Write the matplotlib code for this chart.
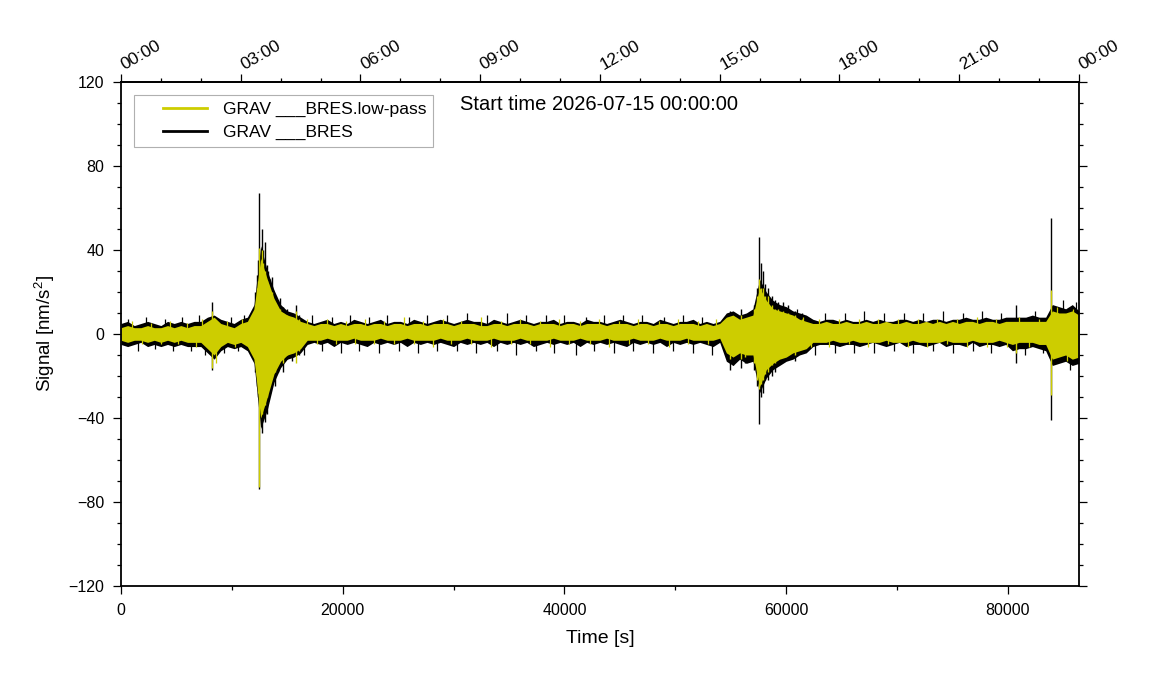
"""Gravimeter residual signal (GRAV ___BRES) with its low-pass version, one day."""

import matplotlib

matplotlib.use("Agg")
import matplotlib.pyplot as plt
import numpy as np
from matplotlib.legend_handler import HandlerLine2D
from matplotlib.lines import Line2D
from matplotlib.ticker import MultipleLocator
from matplotlib.transforms import ScaledTranslation

plt.rcParams["font.family"] = ["Liberation Sans", "DejaVu Sans"]
plt.rcParams["mathtext.fontset"] = "custom"
plt.rcParams["mathtext.rm"] = "Liberation Sans"
plt.rcParams["mathtext.it"] = "Liberation Sans:italic"

# envelope of the traces, read every 600 s (0 .. 86400 s)
step_s = 600
black_hi = [
    5, 6, 4, 5, 6, 5, 4, 6, 5, 6, 5, 6, 6,
    8, 9, 7, 6, 5, 7, 8,
    14, 42, 30, 21, 14, 11, 10, 8,
    6, 5, 6, 7, 5, 6, 5, 7, 6, 5,
    6, 7, 5, 6, 6, 5, 7, 6, 5, 6,
    7, 6, 5, 6, 7, 6, 6, 5, 7, 6,
    5, 6, 7, 6, 5, 6, 6, 7, 5, 6,
    6, 5, 7, 6, 6, 5, 6, 7, 6, 5,
    6, 6, 5, 7, 6, 5, 6, 6, 7, 5,
    6, 5, 6,
    10, 11, 9, 10, 12,
    26, 20, 16, 14, 13, 11, 10, 9,
    7, 6, 7, 7, 6, 7, 6, 6, 7, 6,
    7, 6, 6, 7, 7, 6, 7, 6, 7, 7,
    6, 7, 7, 8, 7, 7, 8, 7, 7, 8,
    8, 8, 8, 9, 8, 8,
    14, 13, 12, 14, 11,
]
black_lo = [
    -5, -6, -5, -4, -6, -5, -6, -5, -6, -5, -6, -6, -6,
    -9, -12, -8, -6, -7, -6, -8,
    -14, -45, -36, -23, -16, -12, -11, -9,
    -5, -4, -5, -4, -6, -4, -5, -4, -5, -6,
    -4, -5, -4, -5, -4, -6, -4, -5, -4, -5,
    -4, -5, -6, -4, -5, -4, -5, -4, -6, -4,
    -5, -4, -5, -4, -6, -5, -4, -5, -4, -5,
    -4, -6, -4, -5, -4, -5, -4, -5, -6, -4,
    -5, -4, -5, -4, -6, -4, -5, -4, -5, -4,
    -5, -6, -4,
    -13, -15, -12, -14, -13,
    -28, -21, -17, -15, -13, -12, -10, -9,
    -6, -5, -5, -5, -6, -5, -5, -6, -5, -4,
    -5, -6, -5, -4, -6, -5, -5, -6, -5, -4,
    -6, -5, -5, -6, -4, -6, -5, -5, -6, -5,
    -8, -7, -7, -6, -7, -8,
    -15, -14, -13, -15, -14,
]
lowpass_hi = [
    3, 4, 3, 3, 4, 3, 3, 4, 3, 4, 3, 4, 4,
    6, 8, 5, 4, 3, 5, 6,
    12, 36, 26, 17, 11, 9, 8, 6,
    5, 4, 5, 5, 4, 5, 4, 5, 5, 4,
    5, 5, 4, 5, 5, 4, 5, 5, 4, 5,
    5, 5, 4, 5, 5, 5, 4, 4, 5, 5,
    4, 5, 5, 5, 4, 5, 5, 5, 4, 5,
    5, 4, 5, 5, 5, 4, 5, 5, 5, 4,
    5, 5, 4, 5, 5, 4, 5, 5, 5, 4,
    5, 4, 5,
    8, 9, 7, 8, 9,
    22, 16, 12, 11, 10, 9, 7, 6,
    5, 5, 6, 5, 5, 6, 5, 5, 6, 5,
    5, 6, 5, 5, 6, 5, 5, 6, 5, 6,
    5, 6, 5, 6, 6, 5, 6, 6, 5, 6,
    6, 6, 6, 6, 6, 6,
    11, 10, 10, 11, 9,
]
lowpass_lo = [
    -3, -4, -3, -3, -4, -3, -4, -3, -4, -3, -4, -4, -4,
    -7, -10, -6, -4, -5, -4, -6,
    -12, -40, -30, -19, -13, -10, -9, -7,
    -3, -3, -3, -2, -3, -3, -3, -2, -3, -3,
    -3, -2, -3, -3, -3, -2, -3, -3, -3, -3,
    -2, -3, -3, -3, -2, -3, -3, -3, -2, -3,
    -3, -3, -2, -3, -3, -3, -3, -2, -3, -3,
    -3, -2, -3, -3, -3, -2, -3, -3, -3, -2,
    -3, -3, -3, -2, -3, -3, -3, -2, -3, -3,
    -3, -3, -2,
    -9, -11, -9, -10, -10,
    -25, -17, -14, -12, -11, -9, -8, -7,
    -4, -4, -4, -3, -4, -4, -3, -4, -4, -4,
    -4, -3, -4, -4, -4, -3, -4, -4, -4, -4,
    -3, -4, -4, -4, -3, -4, -4, -4, -3, -4,
    -5, -4, -4, -4, -5, -5,
    -12, -11, -10, -12, -11,
]

# short spikes standing out of the envelope (drawn from 0 to the value)
black_fringe_t = [
    600, 1500, 2300, 3100, 4000, 4700, 5500, 6300, 7000, 7600,
    9300, 9900, 10600, 11100, 16500, 17200, 18100, 19000, 19800, 20700,
    21500, 22400, 23300, 24000, 25100, 26000, 26800, 27600, 28500, 29400,
    30300, 31200, 32000, 33000, 33900, 34800, 35600, 36500, 37400, 38300,
    39100, 40000, 41000, 41900, 42700, 43600, 44500, 45300, 46200, 47000,
    48000, 49000, 49800, 50700, 51600, 52400, 53300, 61000, 62600, 63500,
    64400, 65300, 66100, 67000, 67900, 68800, 69700, 70600, 71400, 72300,
    73200, 74100, 75000, 75900, 76800, 77700, 78500, 79400, 81500, 82400,
    83200, 85000, 85600, 86100,
]
black_fringe_v = [
    7, -8, 8, -7, 7, -8, 8, -8, 9, -10,
    -9, 8, -8, 9, -10, 9, -8, 8, -9, 9,
    -8, 8, -9, 9, -8, 8, -9, 9, -8, 9,
    -8, 10, -9, 9, -8, 10, -10, 9, -8, 9,
    -9, 9, -10, 8, -8, 9, -9, 9, -8, 9,
    -9, 8, -8, 9, -9, 8, -10, 12, -10, 10,
    -9, 10, -9, 11, -9, 10, -8, 10, -9, 10,
    -8, 11, -9, 10, -8, 11, -9, 10, -10, 11,
    -9, 16, -17, 15,
]
lowpass_fringe_t = [
    1000, 1900, 2700, 3600, 4400, 5100, 6000, 6800, 7300, 8600,
    9600, 10300, 10900, 16800, 17700, 18600, 19400, 20300, 21100, 22000,
    22800, 23700, 24600, 25500, 26400, 27200, 28100, 29000, 29800, 30700,
    31600, 32500, 33400, 34300, 35200, 36000, 36900, 37800, 38700, 39500,
    40400, 41400, 42300, 43100, 44000, 44900, 45800, 46600, 47500, 48500,
    49400, 50200, 51100, 52000, 52900, 53700, 61500, 62200, 63000, 63900,
    64800, 65700, 66600, 67400, 68300, 69200, 70100, 71000, 71900, 72700,
    73600, 74500, 75400, 76300, 77200, 78100, 78900, 79900, 81000, 81900,
    82800, 84400, 85300, 85900,
]
lowpass_fringe_v = [
    6, -5, 5, -5, 6, -5, 5, -6, 7, -14,
    6, -6, 7, 7, -5, 7, -5, 6, -5, 7,
    -5, 6, -5, 8, -5, 6, -6, 7, -5, 6,
    -5, 8, -6, 6, -5, 7, -5, 6, -6, 7,
    -5, 6, -5, 7, -6, 6, -5, 7, -5, 6,
    -6, 7, -5, 6, -5, 7, 8, -6, 7, -6,
    7, -5, 7, -6, 7, -5, 7, -6, 7, -6,
    7, -5, 7, -6, 8, -6, 7, -6, 8, -6,
    7, 13, -13, 12,
]

spike_t = [
    8200, 12100, 12250, 12350, 12475, 12700, 12850, 12950, 13150, 13300,
    13450, 13600, 13750, 13900, 14150, 14300, 14600, 15000, 15400, 15800,
    16100, 54900, 55200, 55900, 56300, 57100, 57350, 57550, 57750, 57900,
    58100, 58400, 58700, 59000, 59300, 59700, 60200, 60800, 61400, 80700,
    83860,
]
black_spike_hi = [
    15, 20, 28, 35, 67, 50, 40, 44, 33, 30,
    26, 27, 21, 18, 16, 17, 13, 12, 10, 14,
    9, 11, 10, 12, 9, 14, 22, 46, 34, 30,
    24, 22, 18, 16, 15, 15, 14, 11, 10, 14,
    55,
]
black_spike_lo = [
    -17, -18, -25, -30, -74, -47, -36, -42, -38, -32,
    -28, -24, -22, -25, -18, -15, -18, -12, -13, -9,
    -10, -17, -15, -16, -14, -17, -25, -43, -30, -28,
    -22, -22, -20, -18, -14, -13, -12, -13, -9, -14,
    -41,
]
lowpass_spike_hi = [
    11, 14, 22, 25, 41, 40, 34, 30, 25, 24,
    20, 20, 16, 14, 12, 12, 10, 9, 8, 11,
    7, 8, 8, 9, 7, 12, 18, 26, 22, 22,
    18, 18, 14, 12, 12, 11, 10, 9, 7, 3,
    21,
]
lowpass_spike_lo = [
    -16, -14, -20, -28, -73, -38, -33, -34, -30, -26,
    -22, -20, -17, -18, -14, -12, -14, -10, -9, -14,
    -8, -12, -10, -12, -11, -14, -22, -26, -24, -22,
    -19, -18, -15, -14, -11, -10, -9, -10, -7, -9,
    -29,
]

hour_labels = ["00:00", "03:00", "06:00", "09:00", "12:00",
               "15:00", "18:00", "21:00", "00:00"]
start_time = "2026-07-15 00:00:00"

YELLOW = "#cdcd00"
day_s = 86400

t = np.arange(len(black_hi)) * step_s

fig = plt.figure(figsize=(11.51, 7.0), dpi=100)
ax = fig.add_axes([0.1051, 0.1629, 0.8323, 0.72])

# raw trace first, low-pass on top of it
ax.fill_between(t, black_lo, black_hi, color="black", lw=0, zorder=1)
ax.vlines(black_fringe_t, 0, black_fringe_v, color="black", lw=0.9, zorder=1.1)
ax.vlines(spike_t, black_spike_lo, black_spike_hi, color="black", lw=1.0,
          zorder=1.2)
ax.fill_between(t, lowpass_lo, lowpass_hi, color=YELLOW, lw=0, zorder=2)
ax.vlines(lowpass_fringe_t, 0, lowpass_fringe_v, color=YELLOW, lw=0.9,
          zorder=2.1)
ax.vlines(spike_t, lowpass_spike_lo, lowpass_spike_hi, color=YELLOW, lw=1.0,
          zorder=2.2)

ax.set_xlim(0, day_s)
ax.set_ylim(-120, 120)

for side in ax.spines.values():
    side.set_linewidth(1.3)

ax.xaxis.set_major_locator(MultipleLocator(20000))
ax.xaxis.set_minor_locator(MultipleLocator(10000))
ax.yaxis.set_major_locator(MultipleLocator(40))
ax.yaxis.set_minor_locator(MultipleLocator(10))
ax.tick_params(which="both", direction="out", right=True, labelsize=11.5,
               width=0.9, pad=6)
ax.tick_params(which="major", length=6)
ax.tick_params(which="minor", length=3)

ax.set_xlabel("Time [s]", fontsize=14, labelpad=9)
ax.set_ylabel("Signal [nm/s$^2$]", fontsize=13.5, labelpad=8)

# clock time on top
top = ax.secondary_xaxis("top")
top.set_xticks(np.arange(len(hour_labels)) * 10800)
top.set_xticklabels(hour_labels, rotation=30, ha="left", va="bottom",
                    rotation_mode="anchor")
top.xaxis.set_minor_locator(MultipleLocator(3600))
top.tick_params(which="both", direction="out", labelsize=12.5, width=0.9, pad=1)
top.tick_params(which="major", length=6)
top.tick_params(which="minor", length=3)
top.spines["top"].set_linewidth(1.3)
shift = ScaledTranslation(0.05, 0, fig.dpi_scale_trans)
for lab in top.get_xticklabels():
    lab.set_transform(lab.get_transform() + shift)

handles = [Line2D([], [], color=YELLOW, lw=2), Line2D([], [], color="black", lw=2)]
leg = ax.legend(
    handles,
    ["GRAV ___BRES.low-pass", "GRAV ___BRES"],
    loc="upper left",
    bbox_to_anchor=(0.0136, 0.974),
    borderaxespad=0,
    fontsize=12.6,
    frameon=True,
    fancybox=False,
    framealpha=1,
    edgecolor="#b0b0b0",
    borderpad=0.4,
    handlelength=3.77,
    handletextpad=0.9,
    labelspacing=0.42,
    handler_map={Line2D: HandlerLine2D(xpad=1.26)},
)
leg.get_frame().set_linewidth(0.8)
leg.set_zorder(5)

ax.text(0.354, 0.956, f"Start time {start_time}", transform=ax.transAxes,
        ha="left", va="center", fontsize=14.5)

fig.savefig("out.png", dpi=100)
